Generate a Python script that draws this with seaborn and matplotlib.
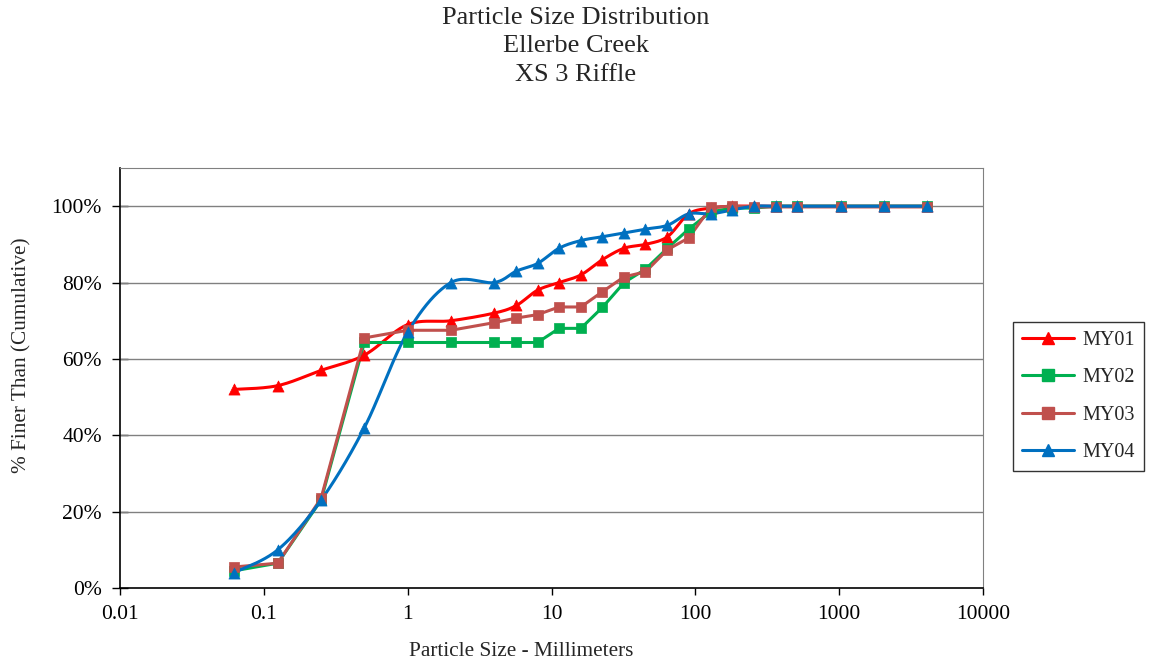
import numpy as np
import pandas as pd
import matplotlib
matplotlib.use("Agg")
import matplotlib.pyplot as plt
from matplotlib.lines import Line2D
from matplotlib.ticker import FixedLocator, FuncFormatter, NullLocator
import seaborn as sns

sizes_mm = [0.062, 0.125, 0.25, 0.5, 1, 2, 4, 5.7, 8, 11.3, 16, 22.6, 32, 45, 64,
            90, 128, 180, 256, 362, 512, 1024, 2048, 4096]
my01 = [52, 53, 57, 61, 69, 70, 72, 74, 78, 80, 82, 86, 89, 90, 92,
        98, 99.5, 100, 100, 100, 100, 100, 100, 100]
my02 = [4.5, 6.5, 23, 64.3, 64.3, 64.3, 64.3, 64.3, 64.3, 68, 68, 73.5, 80, 83.5, 89,
        94, 98.5, 99.5, 99.5, 100, 100, 100, 100, 100]
my03 = [5.5, 6.5, 23.5, 65.5, 67.5, 67.5, 69.5, 70.7, 71.6, 73.6, 73.6, 77.6, 81.5, 82.8, 88.6,
        91.7, 99.7, 100, 99.8, 99.8, 99.8, 99.8, 99.8, 99.8]
my04 = [4, 10, 23, 42, 67, 80, 80, 83, 85, 89, 91, 92, 93, 94, 95,
        98, 98, 99, 100, 100, 100, 100, 100, 100]

series_names = ["MY01", "MY02", "MY03", "MY04"]
series_values = [my01, my02, my03, my04]
colors = ["#FF0000", "#00B050", "#C0504D", "#0070C0"]
markers = ["^", "s", "s", "^"]
smoothed = [True, False, False, True]

title_lines = ["Particle Size Distribution", "Ellerbe Creek", "XS 3 Riffle"]
x_ticks = [0.01, 0.1, 1, 10, 100, 1000, 10000]
x_tick_labels = ["0.01", "0.1", "1", "10", "100", "1000", "10000"]
y_ticks = [0, 20, 40, 60, 80, 100]

sns.set_style("white")
plt.rcParams["font.family"] = ["Liberation Serif", "DejaVu Serif"]

W, H = 1152, 665
fig = plt.figure(figsize=(W / 100, H / 100), dpi=100)
ax = fig.add_axes([120 / W, 1 - 588 / H, (983 - 120) / W, (588 - 168) / H])

PX_DEC = 143.8
PX_PCT = 3.82


def smooth_curve(xs, ys, n=24):
    u = np.log10(np.asarray(xs, float)) * PX_DEC
    v = np.asarray(ys, float) * PX_PCT
    P = np.column_stack([u, v])
    out = [P[0]]
    for i in range(len(P) - 1):
        p0 = P[i - 1] if i > 0 else P[i]
        p1 = P[i]
        p2 = P[i + 1]
        p3 = P[i + 2] if i + 2 < len(P) else P[i + 1]
        c1 = p1 + (p2 - p0) / 6.0
        c2 = p2 - (p3 - p1) / 6.0
        t = np.linspace(0, 1, n)[1:, None]
        b = ((1 - t) ** 3) * p1 + 3 * ((1 - t) ** 2) * t * c1 + 3 * (1 - t) * t ** 2 * c2 + t ** 3 * p2
        out.extend(b)
    out = np.array(out)
    return 10 ** (out[:, 0] / PX_DEC), out[:, 1] / PX_PCT


for name, vals, col, mk, sm in zip(series_names, series_values, colors, markers, smoothed):
    if sm:
        sx, sy = smooth_curve(sizes_mm, vals)
    else:
        sx, sy = np.asarray(sizes_mm, float), np.asarray(vals, float)
    df_line = pd.DataFrame({"x": sx, "y": sy})
    sns.lineplot(data=df_line, x="x", y="y", ax=ax, color=col, lw=2.2,
                 sort=False, estimator=None, zorder=3)
    df_pts = pd.DataFrame({"x": sizes_mm, "y": vals})
    sns.scatterplot(data=df_pts, x="x", y="y", ax=ax, color=col, marker=mk,
                    s=64 if mk == "^" else 56, edgecolor=col, linewidth=0.5, zorder=4)

ax.set_xscale("log")
ax.set_xlim(0.01, 10000)
ax.set_ylim(0, 110)
ax.xaxis.set_major_locator(FixedLocator(x_ticks))
ax.xaxis.set_minor_locator(NullLocator())
ax.set_xticklabels(x_tick_labels)
ax.yaxis.set_major_locator(FixedLocator(y_ticks))
ax.yaxis.set_major_formatter(FuncFormatter(lambda v, p: f"{int(v)}%"))
ax.set_xlabel("")
ax.set_ylabel("")

for yv in y_ticks[1:]:
    ax.axhline(yv, color="#808080", lw=1.0, zorder=1)

ax.tick_params(axis="x", which="major", direction="out", length=5, width=1,
               colors="black", labelsize=15.5, pad=7, bottom=True)
ax.tick_params(axis="y", which="major", direction="inout", length=12, width=1,
               colors="black", labelsize=15.5, pad=7, left=True)
ax.spines["left"].set_color("black")
ax.spines["bottom"].set_color("black")
ax.spines["left"].set_linewidth(1.2)
ax.spines["bottom"].set_linewidth(1.2)
ax.spines["top"].set_color("#808080")
ax.spines["right"].set_color("#808080")

for i, yy in enumerate([18, 46, 75]):
    fig.text(576 / W, 1 - yy / H, title_lines[i], ha="center", va="center", fontsize=19)

fig.text(521 / W, 1 - 652 / H, "Particle Size - Millimeters", ha="center", va="center", fontsize=15.3)
fig.text(22 / W, 1 - 355 / H, "% Finer Than (Cumulative)", ha="center", va="center",
         rotation=90, fontsize=15.3)

handles = [Line2D([0], [0], color=c, lw=2.2, marker=m, markersize=8,
                  markerfacecolor=c, markeredgecolor=c)
           for c, m in zip(colors, markers)]
leg = fig.legend(handles, series_names, loc="upper left",
                 bbox_to_anchor=(1013 / W, 1 - 322 / H), borderaxespad=0.0,
                 frameon=True, fancybox=False,
                 edgecolor="black", fontsize=14.5, handlelength=2.6, labelspacing=0.9,
                 borderpad=0.45, handletextpad=0.4)
leg.get_frame().set_linewidth(1.0)

fig.savefig("out.png", dpi=100)
